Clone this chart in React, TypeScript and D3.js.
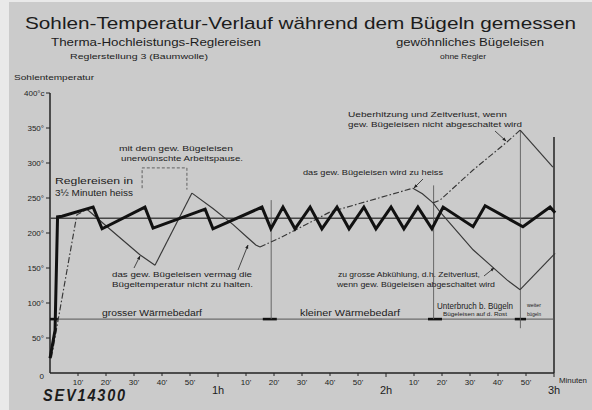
import React, { useEffect } from 'react';
import * as d3 from 'd3';

const W = 592;
const H = 410;

// ---- Data (minutes, °C) ----
// Therma-Hochleistungs-Reglereisen (thick curve)
const reglerTime = [0, 1.8, 2.7, 4.3, 15.4, 18.6, 33.9, 36.8, 55.4, 58.2, 75.7, 78.9, 83.2, 87.5, 92.9, 97.1, 102.5, 106.8, 112.1, 116.4, 121.8, 126.4, 131.4, 136.4, 140.4, 151.1, 155.4, 168.9, 178.6, 180.4];
const reglerTemp = [21, 61, 223, 224, 237, 206, 237, 207, 234, 206, 237, 206, 237, 206, 237, 206, 237, 206, 237, 206, 237, 206, 237, 206, 237, 209, 239, 209, 237, 229];

// gewöhnliches Bügeleisen (thin curve), segment by segment
const gewHeat1Time = [0.5, 9.6, 13.2];
const gewHeat1Temp = [22, 226, 234];
const gewCool1Time = [13.2, 20.4, 32.1, 37.5];
const gewCool1Temp = [234, 209, 169, 154];
const gewHeat2Time = [37.5, 50.7];
const gewHeat2Temp = [154, 257];
const gewCool2Time = [50.7, 58.2, 65.4, 70.4, 73.5, 75];
const gewCool2Temp = [257, 235, 212, 194, 183, 180];
const gewHeat3Time = [75, 82.1, 100, 129.6];
const gewHeat3Temp = [180, 193, 230, 264];
const gewCool3Time = [129.6, 133, 136.8];
const gewCool3Temp = [264, 256, 243];
const gewUpTime = [136.8, 139.3, 151.1, 163.2, 167.9];
const gewUpTemp = [243, 247, 290, 330, 347];
const gewUpCoolTime = [167.9, 179.6];
const gewUpCoolTemp = [347, 294];
const gewDownTime = [136.8, 139.3, 151.1, 163.2, 167.9];
const gewDownTemp = [243, 230, 176, 133, 119];
const gewDownHeatTime = [167.9, 180.4];
const gewDownHeatTemp = [119, 171];

// reference temperature and heat-demand level
const refTemp = 221;
const demandTemp = 77;
const demandMarkStart = [0, 76, 135, 166];
const demandMarkEnd = [2.8, 81, 140, 170];

// vertical event lines (minute, top °C, bottom °C)
const eventTime = [79, 137, 168];
const eventTop = [247, 268, 347];
const eventBottom = [77, 77, 64];

// ticks
const yTickValues = [0, 50, 100, 150, 200, 250, 300, 350, 400];
const yTickLabels = ['0', '50°', '100°', '150°', '200°', '250°', '300°', '350°', '400°c'];
const xTickValues = [10, 20, 30, 40, 50, 70, 80, 90, 100, 110, 130, 140, 150, 160, 170];
const xTickLabels = ["10'", "20'", "30'", "40'", "50'", "10'", "20'", "30'", "40'", "50'", "10'", "20'", "30'", "40'", "50'"];
const hourValues = [60, 120, 180];
const hourLabels = ['1h', '2h', '3h'];

const x = d3.scaleLinear().domain([0, 180]).range([50, 554]);
const y = d3.scaleLinear().domain([0, 400]).range([373, 93]);

const line = d3
  .line<[number, number]>()
  .x((d) => x(d[0]))
  .y((d) => y(d[1]));

const pts = (t: number[], v: number[]) => t.map((tt, i) => [tt, v[i]] as [number, number]);

const FONT = '"Liberation Sans", Arial, sans-serif';
const INK = '#1c1c1c';
const DASHDOT = '6 2.2 1.6 2.2';

const T = (props: any) => (
  <text fontFamily={FONT} fill={INK} lengthAdjust="spacingAndGlyphs" {...props} />
);

export default function App() {
  useEffect(() => {
    document.documentElement.style.overflow = 'hidden';
    document.body.style.overflow = 'hidden';
    document.body.style.margin = '0';
  }, []);
  const thin = { fill: 'none', stroke: '#383838', strokeWidth: 1.15 } as const;
  return (
    <svg
      width={W}
      height={H}
      viewBox={`0 0 ${W} ${H}`}
      style={{ position: 'fixed', left: 0, top: 0, display: 'block' }}
    >
      <defs>
        <marker id="arr" viewBox="0 0 10 10" refX="9" refY="5" markerWidth="5" markerHeight="5" orient="auto">
          <path d="M0,1 L10,5 L0,9 Z" fill="#222" />
        </marker>
      </defs>

      {/* paper */}
      <rect x={0} y={0} width={W} height={H} fill="#e9e9e9" />
      <rect x={9} y={2} width={W - 9} height={H - 2} fill="#cbcbcb" />

      {/* title block */}
      <T x={25} y={29} fontSize={17} textLength={551}>Sohlen-Temperatur-Verlauf  während  dem  Bügeln  gemessen</T>
      <T x={51} y={46} fontSize={11} textLength={210}>Therma-Hochleistungs-Reglereisen</T>
      <T x={70} y={59} fontSize={8} textLength={138}>Reglerstellung 3 (Baumwolle)</T>
      <T x={396} y={46} fontSize={11} textLength={148}>gewöhnliches Bügeleisen</T>
      <T x={440} y={59} fontSize={8} textLength={46}>ohne Regler</T>
      <T x={14} y={80} fontSize={8} textLength={80}>Sohlentemperatur</T>

      {/* axes */}
      <line x1={x(0)} x2={x(0)} y1={y(400)} y2={y(0)} stroke="#222" strokeWidth={1.5} />
      <line x1={x(0)} x2={x(180)} y1={y(0)} y2={y(0)} stroke="#222" strokeWidth={1.5} />
      <line x1={x(180)} x2={x(180)} y1={y(337)} y2={y(0)} stroke="#222" strokeWidth={1.5} />

      {yTickValues.map((v, i) => (
        <g key={'yt' + i}>
          {v > 0 && <line x1={x(0) - 4} x2={x(0)} y1={y(v)} y2={y(v)} stroke="#222" strokeWidth={1} />}
          <T x={v === 400 ? 24 : 44} y={y(v) + 3 + (v === 0 ? 3 : 0)} fontSize={8} textAnchor={v === 400 ? 'start' : 'end'}>
            {yTickLabels[i]}
          </T>
        </g>
      ))}

      {xTickValues.map((v, i) => (
        <g key={'xt' + i}>
          <line x1={x(v)} x2={x(v)} y1={y(0)} y2={y(0) + 3} stroke="#222" strokeWidth={1} />
          <T x={x(v)} y={385} fontSize={8} textAnchor="middle">{xTickLabels[i]}</T>
        </g>
      ))}
      {hourValues.map((v, i) => (
        <g key={'ht' + i}>
          <line x1={x(v)} x2={x(v)} y1={y(0)} y2={y(0) + 4} stroke="#222" strokeWidth={1} />
          <T x={x(v)} y={394} fontSize={11} textAnchor="middle">{hourLabels[i]}</T>
        </g>
      ))}
      <T x={559} y={383} fontSize={7} textLength={28}>Minuten</T>

      {/* reference lines */}
      <line x1={x(0)} x2={x(180)} y1={y(refTemp)} y2={y(refTemp)} stroke="#474747" strokeWidth={1.5} />
      <line x1={x(0)} x2={x(180)} y1={y(demandTemp)} y2={y(demandTemp)} stroke="#555" strokeWidth={1} />
      {demandMarkStart.map((s, i) => (
        <line key={'dm' + i} x1={x(s)} x2={x(demandMarkEnd[i])} y1={y(demandTemp)} y2={y(demandTemp)} stroke="#111" strokeWidth={2.6} />
      ))}
      {eventTime.map((t, i) => (
        <line key={'ev' + i} x1={x(t)} x2={x(t)} y1={y(eventTop[i])} y2={y(eventBottom[i])} stroke="#5c5c5c" strokeWidth={0.9} />
      ))}

      {/* Arbeitspause bracket */}
      <path
        d={`M${x(32.9)},${y(264)} L${x(32.9)},${y(293)} L${x(48.9)},${y(293)} L${x(48.9)},${y(262)}`}
        fill="none"
        stroke="#555"
        strokeWidth={0.9}
        strokeDasharray="3 2"
      />

      {/* gewöhnliches Bügeleisen */}
      <path d={line(pts(gewHeat1Time, gewHeat1Temp)) || ''} {...thin} strokeDasharray={DASHDOT} />
      <path d={line(pts(gewCool1Time, gewCool1Temp)) || ''} {...thin} />
      <path d={line(pts(gewHeat2Time, gewHeat2Temp)) || ''} {...thin} />
      <path d={line(pts(gewCool2Time, gewCool2Temp)) || ''} {...thin} />
      <path d={line(pts(gewHeat3Time, gewHeat3Temp)) || ''} {...thin} strokeDasharray={DASHDOT} />
      <path d={line(pts(gewCool3Time, gewCool3Temp)) || ''} {...thin} />
      <path d={line(pts(gewUpTime, gewUpTemp)) || ''} {...thin} strokeDasharray={DASHDOT} />
      <path d={line(pts(gewUpCoolTime, gewUpCoolTemp)) || ''} {...thin} />
      <path d={line(pts(gewDownTime, gewDownTemp)) || ''} {...thin} />
      <path d={line(pts(gewDownHeatTime, gewDownHeatTemp)) || ''} {...thin} />

      {/* Reglereisen */}
      <path
        d={line(pts(reglerTime, reglerTemp)) || ''}
        fill="none"
        stroke="#111"
        strokeWidth={3}
        strokeLinejoin="miter"
      />

      {/* annotations */}
      <T x={55} y={184} fontSize={9.5} textLength={78}>Reglereisen  in</T>
      <T x={55} y={196} fontSize={9.5} textLength={78}>3½ Minuten heiss</T>

      <T x={119} y={151} fontSize={8} textLength={114}>mit dem gew. Bügeleisen</T>
      <T x={121} y={161} fontSize={8} textLength={122}>unerwünschte Arbeitspause.</T>

      <T x={112} y={277} fontSize={8} textLength={140}>das gew. Bügeleisen vermag die</T>
      <T x={112} y={287} fontSize={8} textLength={141}>Bügeltemperatur nicht zu halten.</T>
      <line x1={134} y1={268} x2={140} y2={256} stroke="#222" strokeWidth={0.8} markerEnd="url(#arr)" />
      <line x1={238} y1={270} x2={248} y2={245} stroke="#222" strokeWidth={0.8} markerEnd="url(#arr)" />

      <T x={303} y={175} fontSize={8} textLength={140}>das gew. Bügeleisen wird zu heiss</T>
      <line x1={423} y1={179} x2={414} y2={188} stroke="#222" strokeWidth={0.8} markerEnd="url(#arr)" />

      <T x={348} y={117} fontSize={8} textLength={159}>Ueberhitzung  und  Zeitverlust,  wenn</T>
      <T x={348} y={127} fontSize={8} textLength={174}>gew. Bügeleisen  nicht  abgeschaltet  wird</T>
      <line x1={495} y1={131} x2={506} y2={141} stroke="#222" strokeWidth={0.8} markerEnd="url(#arr)" />

      <T x={338} y={277} fontSize={7.5} textLength={142}>zu grosse Abkühlung, d.h. Zeitverlust,</T>
      <T x={337} y={287} fontSize={7.5} textLength={158}>wenn gew. Bügeleisen abgeschaltet wird</T>
      <line x1={484} y1={276} x2={494} y2={268} stroke="#222" strokeWidth={0.8} markerEnd="url(#arr)" />

      <T x={102} y={316} fontSize={8.5} textLength={100}>grosser Wärmebedarf</T>
      <T x={300} y={316} fontSize={8.5} textLength={100}>kleiner Wärmebedarf</T>
      <T x={437} y={309} fontSize={8.5} textLength={76}>Unterbruch b. Bügeln</T>
      <T x={443} y={315.5} fontSize={5} textLength={64}>Bügeleisen auf d. Rost</T>
      <T x={527} y={307} fontSize={5.5} textLength={14}>weiter</T>
      <T x={527} y={315.5} fontSize={5.5} textLength={14}>bügeln</T>

      <T x={43} y={401} fontSize={16} fontStyle="italic" fontWeight="bold" textLength={84} letterSpacing={2}>
        SEV14300
      </T>
    </svg>
  );
}
